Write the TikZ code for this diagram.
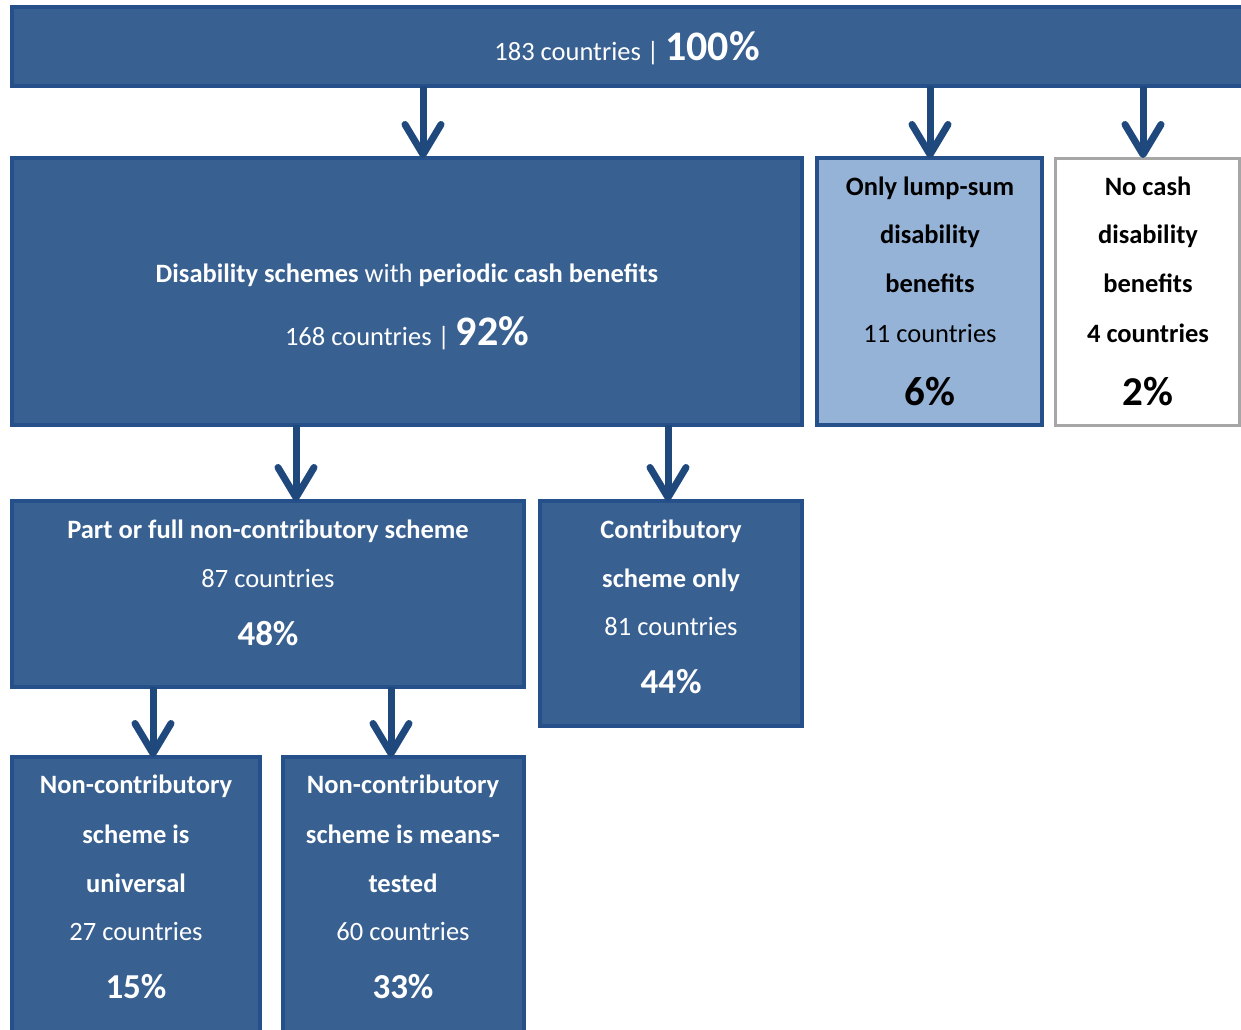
\documentclass[tikz,border=0pt]{standalone}
\usepackage{fontspec}
\setmainfont{Carlito}
\usetikzlibrary{arrows.meta}
\definecolor{boxfill}{HTML}{386090}
\definecolor{boxline}{HTML}{26508A}
\definecolor{arrowc}{HTML}{1F497D}
\definecolor{lightfill}{HTML}{95B3D7}
\definecolor{greyline}{HTML}{A6A6A6}
\tikzset{
  darkbox/.style={draw=boxline, fill=boxfill, line width=4pt, inner sep=0pt, outer sep=0pt, anchor=north west},
  lightbox/.style={draw=boxline, fill=lightfill, line width=4pt, inner sep=0pt, outer sep=0pt, anchor=north west},
  whitebox/.style={draw=greyline, fill=white, line width=3pt, inner sep=0pt, outer sep=0pt, anchor=north west},
  arr/.style={draw=arrowc, line width=7pt, -{Straight Barb[length=30pt, width=36pt, line cap=round, line join=round]}},
  wt/.style={text=white, anchor=base, inner sep=0pt, font=\fontsize{26.5}{30}\selectfont},
  bt/.style={text=black, anchor=base, inner sep=0pt, font=\fontsize{26.5}{30}\selectfont},
  wtb/.style={wt, font=\fontsize{26.5}{30}\selectfont\bfseries},
  btb/.style={bt, font=\fontsize{26.5}{30}\selectfont\bfseries},
  pct/.style={font=\fontsize{35}{40}\selectfont\bfseries},
  bigpct/.style={font=\fontsize{41}{46}\selectfont\bfseries},
}
\begin{document}
\begin{tikzpicture}[x=1pt,y=-1pt]
\useasboundingbox (0,0) rectangle (1241,1029);
\clip (0,0) rectangle (1241,1029);
\fill[white] (0,0) rectangle (1241,1029);

% boxes
\node[darkbox, minimum width=1240pt, minimum height=79pt] (top) at (12,7) {};
\node[darkbox, minimum width=790pt, minimum height=267pt] (A) at (12,158) {};
\node[lightbox, minimum width=225pt, minimum height=267pt] (B) at (817,158) {};
\node[whitebox, minimum width=184pt, minimum height=267pt] (C) at (1055,158) {};
\node[darkbox, minimum width=512pt, minimum height=186pt] (D) at (12,501) {};
\node[darkbox, minimum width=262pt, minimum height=225pt] (E) at (540,501) {};
\node[darkbox, minimum width=248pt, minimum height=300pt] (F) at (12,757) {};
\node[darkbox, minimum width=241pt, minimum height=300pt] (G) at (283,757) {};

% arrow columns
\coordinate (c1) at (423,0);
\coordinate (c2) at (930,0);
\coordinate (c3) at (1143,0);
\coordinate (c4) at (296,0);
\coordinate (c5) at (668,0);
\coordinate (c6) at (153,0);
\coordinate (c7) at (391,0);

\draw[arr] (top.south -| c1) -- (A.north -| c1);
\draw[arr] (top.south -| c2) -- (B.north -| c2);
\draw[arr] (top.south -| c3) -- (C.north -| c3);
\draw[arr] (A.south -| c4) -- (D.north -| c4);
\draw[arr] (A.south -| c5) -- (E.north -| c5);
\draw[arr] (D.south -| c6) -- (F.north -| c6);
\draw[arr] (D.south -| c7) -- (G.north -| c7);

% texts
\node[wt] (t0) at (627,60) {183 countries | {\fontsize{42}{46}\selectfont\bfseries 100\%}};

\node[wt] (a1) at (407,282) {\textbf{Disability schemes} with \textbf{periodic cash benefits}};
\node[wt] (a2) at (407,345) {168 countries | {\fontsize{42}{46}\selectfont\bfseries 92\%}};

\node[btb] (b1) at (930,195) {Only lump-sum};
\node[btb] (b2) at (930,243) {disability};
\node[btb] (b3) at (930,292) {benefits};
\node[bt] (b4) at (930,342) {11 countries};
\node[bt, bigpct] (b5) at (930,405) {6\%};

\node[btb] (c1t) at (1148,195) {No cash};
\node[btb] (c2t) at (1148,243) {disability};
\node[btb] (c3t) at (1148,292) {benefits};
\node[btb] (c4t) at (1148,342) {4 countries};
\node[bt, bigpct] (c5t) at (1148,405) {2\%};

\node[wtb] (d1) at (268,538) {Part or full non-contributory scheme};
\node[wt] (d2) at (268,587) {87 countries};
\node[wt, pct] (d3) at (268,645) {48\%};

\node[wtb] (e1) at (671,538) {Contributory};
\node[wtb] (e2) at (671,587) {scheme only};
\node[wt] (e3) at (671,635) {81 countries};
\node[wt, pct] (e4) at (671,693) {44\%};

\node[wtb] (f1) at (136,793) {Non-contributory};
\node[wtb] (f2) at (136,843) {scheme is};
\node[wtb] (f3) at (136,892) {universal};
\node[wt] (f4) at (136,940) {27 countries};
\node[wt, pct] (f5) at (136,998) {15\%};

\node[wtb] (g1) at (403,793) {Non-contributory};
\node[wtb] (g2) at (403,843) {scheme is means-};
\node[wtb] (g3) at (403,892) {tested};
\node[wt] (g4) at (403,940) {60 countries};
\node[wt, pct] (g5) at (403,998) {33\%};
\end{tikzpicture}
\end{document}
